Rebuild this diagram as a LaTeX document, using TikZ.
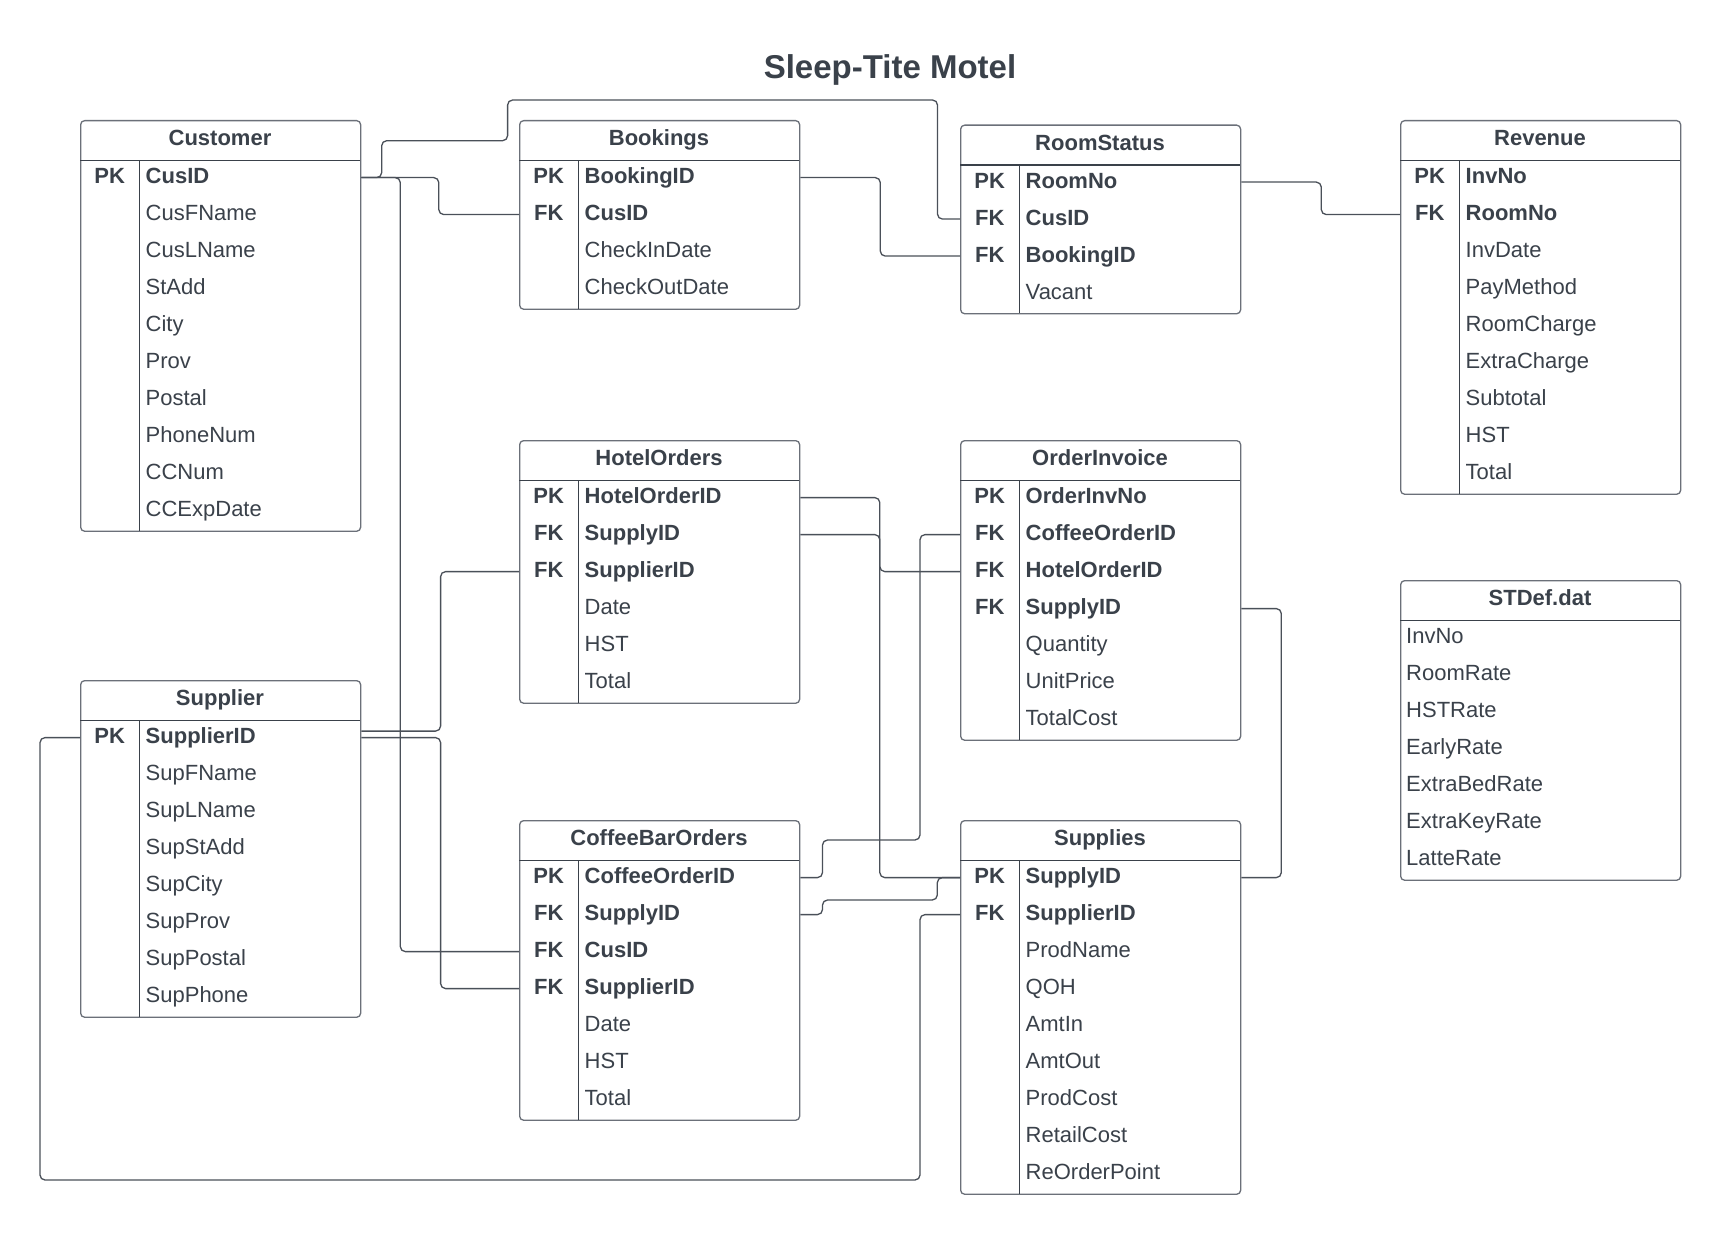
\documentclass[tikz,border=0pt]{standalone}
\usepackage{fontspec}
\setmainfont{Liberation Sans}
\usetikzlibrary{calc}
\definecolor{txt}{HTML}{3A414A}
\definecolor{bord}{HTML}{6B7079}
\definecolor{conncol}{HTML}{4A5059}
\newcounter{rowno}
\newcommand\fieldfont{\fontsize{22}{26}\selectfont}
\newcommand\titlefont{\fontsize{33}{38}\selectfont\bfseries}
\newcommand\tabstart[6]{%
  \def\tabId{#1}\def\tabX{#2}\def\tabY{#3}%
  \pgfmathsetmacro\tabH{40.6+37*#5}%
  \node[tabbox, minimum height=\tabH pt, anchor=north west] (#1) at (#2,#3) {};%
  \node[headtext] (#1-t) at (#2+140,#3+18) {#4};%
  \draw[sepline] (#2,#3+40.6) -- (#2+280,#3+40.6);%
  \ifnum#6=1 \draw[sepline] (#2+59.5,#3+40.6) -- (#2+59.5,#3+\tabH);\fi
  \setcounter{rowno}{0}}
\newcommand\rowpos{\stepcounter{rowno}%
  \pgfmathsetmacro\rowY{\tabY+40.6+37*(\arabic{rowno}-0.5)-3}}
\newcommand\krow[2]{\rowpos
  \node[keytext] (\tabId-k\arabic{rowno}) at (\tabX+29.75,\rowY) {#1};%
  \node[bfield] (\tabId-f\arabic{rowno}) at (\tabX+65.5,\rowY) {#2};}
\newcommand\frow[1]{\rowpos
  \node[field] (\tabId-f\arabic{rowno}) at (\tabX+65.5,\rowY) {#1};}
\newcommand\srow[1]{\rowpos
  \node[field] (\tabId-f\arabic{rowno}) at (\tabX+6,\rowY) {#1};}
\begin{document}
\begin{tikzpicture}[x=1pt,y=-1pt,
  tabbox/.style={draw=bord, line width=1.3pt, rounded corners=4pt, minimum width=280pt, inner sep=0pt, fill=white},
  sepline/.style={draw=txt, line width=1.3pt},
  field/.style={anchor=west, inner sep=0pt, text height=15.75pt, text depth=0pt, font=\fieldfont, text=txt},
  bfield/.style={field, font=\fieldfont\bfseries},
  keytext/.style={anchor=center, inner sep=0pt, text height=15.75pt, text depth=0pt, font=\fieldfont\bfseries, text=txt},
  headtext/.style={keytext},
  conn/.style={draw=conncol, line width=1.3pt, rounded corners=5pt}]
\fill[white] (0,0) rectangle (1721,1233);
\useasboundingbox (0,0) rectangle (1721,1233);

\node[font=\titlefont, text=txt, inner sep=0pt, text height=23.6pt, text depth=0pt] (title) at (890,67) {Sleep-Tite Motel};

% Customer
\tabstart{cus}{80}{120}{Customer}{10}{1}
\krow{PK}{CusID}\frow{CusFName}\frow{CusLName}\frow{StAdd}\frow{City}
\frow{Prov}\frow{Postal}\frow{PhoneNum}\frow{CCNum}\frow{CCExpDate}

% Bookings
\tabstart{bok}{519}{120}{Bookings}{4}{1}
\krow{PK}{BookingID}\krow{FK}{CusID}\frow{CheckInDate}\frow{CheckOutDate}

% RoomStatus
\tabstart{rs}{960}{124.5}{RoomStatus}{4}{1}
\krow{PK}{RoomNo}\krow{FK}{CusID}\krow{FK}{BookingID}\frow{Vacant}

% Revenue
\tabstart{rev}{1400}{120}{Revenue}{9}{1}
\krow{PK}{InvNo}\krow{FK}{RoomNo}\frow{InvDate}\frow{PayMethod}\frow{RoomCharge}
\frow{ExtraCharge}\frow{Subtotal}\frow{HST}\frow{Total}

% HotelOrders
\tabstart{ho}{519}{440}{HotelOrders}{6}{1}
\krow{PK}{HotelOrderID}\krow{FK}{SupplyID}\krow{FK}{SupplierID}\frow{Date}\frow{HST}\frow{Total}

% OrderInvoice
\tabstart{oi}{960}{440}{OrderInvoice}{7}{1}
\krow{PK}{OrderInvNo}\krow{FK}{CoffeeOrderID}\krow{FK}{HotelOrderID}\krow{FK}{SupplyID}
\frow{Quantity}\frow{UnitPrice}\frow{TotalCost}

% STDef.dat
\tabstart{std}{1400}{580}{STDef.dat}{7}{0}
\srow{InvNo}\srow{RoomRate}\srow{HSTRate}\srow{EarlyRate}\srow{ExtraBedRate}\srow{ExtraKeyRate}\srow{LatteRate}

% Supplier
\tabstart{spl}{80}{680}{Supplier}{8}{1}
\krow{PK}{SupplierID}\frow{SupFName}\frow{SupLName}\frow{SupStAdd}\frow{SupCity}
\frow{SupProv}\frow{SupPostal}\frow{SupPhone}

% CoffeeBarOrders
\tabstart{cof}{519}{820}{CoffeeBarOrders}{7}{1}
\krow{PK}{CoffeeOrderID}\krow{FK}{SupplyID}\krow{FK}{CusID}\krow{FK}{SupplierID}
\frow{Date}\frow{HST}\frow{Total}

% Supplies
\tabstart{sup}{960}{820}{Supplies}{9}{1}
\krow{PK}{SupplyID}\krow{FK}{SupplierID}\frow{ProdName}\frow{QOH}\frow{AmtIn}
\frow{AmtOut}\frow{ProdCost}\frow{RetailCost}\frow{ReOrderPoint}

% connectors (attach at row centres)
\draw[conn] ($(cus.east |- cus-f1)+(0,1.5)$) -- ++(77.5,0) |- ($(bok.west |- bok-f2)+(0,1.5)$);
\draw[conn] ($(cus.east |- cus-f1)+(0,1.5)$) -- ++(20.4,0) |- (507.6,140.7) |- (937.5,100) |- ($(rs.west |- rs-f2)+(0,1.5)$);
\draw[conn] ($(cus.east |- cus-f1)+(0,1.5)$) -- ++(39,0) |- ($(cof.west |- cof-f3)+(0,1.5)$);
\draw[conn] ($(bok.east |- bok-f1)+(0,1.5)$) -- ++(80,0) |- ($(rs.west |- rs-f3)+(0,1.5)$);
\draw[conn] ($(rs.east |- rs-f1)+(0,1.5)$) -- ++(80,0) |- ($(rev.west |- rev-f2)+(0,1.5)$);
\draw[conn] ($(ho.east |- ho-f1)+(0,1.5)$) -- ++(79.5,0) |- ($(sup.west |- sup-f1)+(0,1.5)$);
\draw[conn] ($(ho.east |- ho-f2)+(0,1.5)$) -- ++(79.5,0) |- ($(oi.west |- oi-f3)+(0,1.5)$);
\draw[conn] ($(cof.east |- cof-f1)+(0,1.5)$) -- ++(22.2,0) |- (920,840) |- ($(oi.west |- oi-f2)+(0,1.5)$);
\draw[conn] ($(cof.east |- cof-f2)+(0,1.5)$) -- ++(22.2,0) |- (937.3,900) |- ($(sup.west |- sup-f1)+(0,1.5)$);
\draw[conn] ($(sup.west |- sup-f2)+(0,1.5)$) -- ++(-40,0) |- (40,1180) |- ($(spl.west |- spl-f1)+(0,1.5)$);
\draw[conn] ($(oi.east |- oi-f4)+(0,1.5)$) -- ++(40,0) |- ($(sup.east |- sup-f1)+(0,1.5)$);
\draw[conn] ($(spl.east |- spl-f1)+(0,-5)$) -- ++(79.3,0) |- ($(ho.west |- ho-f3)+(0,1.5)$);
\draw[conn] ($(spl.east |- spl-f1)+(0,1.5)$) -- ++(79.3,0) |- ($(cof.west |- cof-f4)+(0,1.5)$);
\end{tikzpicture}
\end{document}
